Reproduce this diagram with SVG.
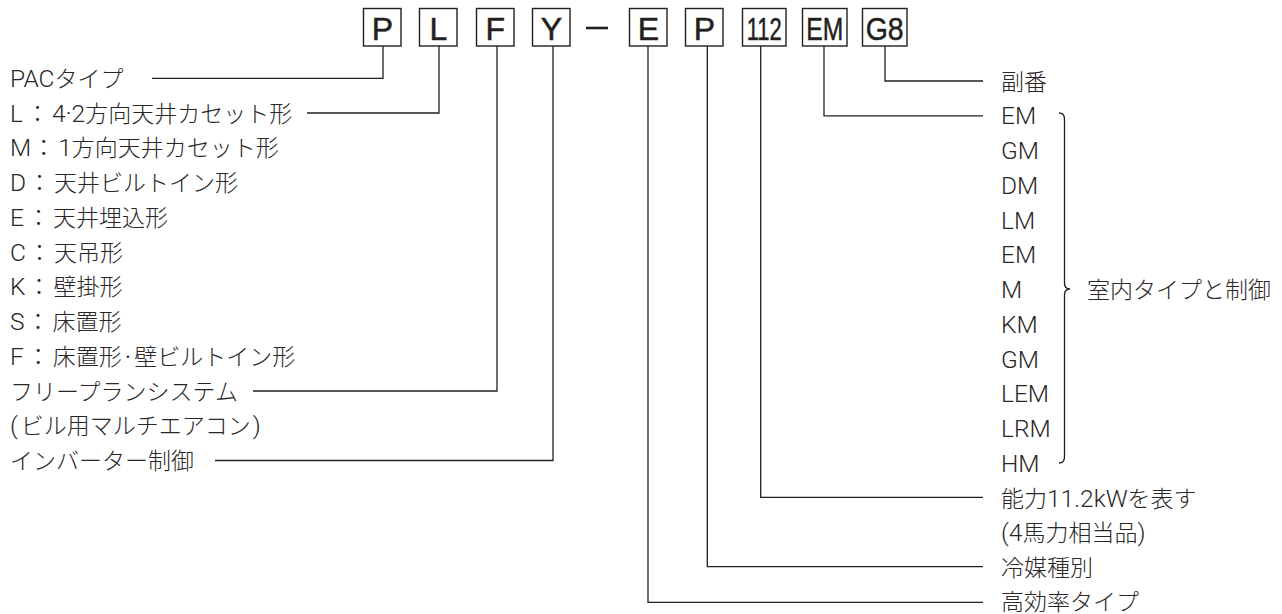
<svg xmlns="http://www.w3.org/2000/svg" width="1282" height="614" viewBox="0 0 1282 614">
<style>
.bx{fill:#fff;stroke:#231f20;stroke-width:1.4}
.bt{font-family:"Liberation Sans","Noto Sans CJK JP",sans-serif;font-size:32px;fill:#231f20;stroke:#231f20;stroke-width:0.5;text-anchor:middle}
.t{font-family:"Noto Sans CJK JP","Liberation Sans",sans-serif;font-size:23px;font-weight:300;fill:#2a2627}
.la{font-family:Roboto,"Liberation Sans",sans-serif;font-size:24.5px;font-weight:300;fill:#2a2627}
.ln{fill:none;stroke:#231f20;stroke-width:1.3}
</style>
<rect width="1282" height="614" fill="#fff"/>
<g id="code">
<g id="box-P"><rect class="bx" x="363.5" y="8.5" width="37.5" height="37.5"/><text class="bt" x="382.3" y="39.5">P</text></g>
<g id="box-L"><rect class="bx" x="419.5" y="8.5" width="37.5" height="37.5"/><text class="bt" x="438.3" y="39.5">L</text></g>
<g id="box-F"><rect class="bx" x="476.5" y="8.5" width="37.5" height="37.5"/><text class="bt" x="495.3" y="39.5">F</text></g>
<g id="box-Y"><rect class="bx" x="532.5" y="8.5" width="37.5" height="37.5"/><text class="bt" x="551.3" y="39.5">Y</text></g>
<g id="dash"><line x1="586" y1="28" x2="608" y2="28" stroke="#231f20" stroke-width="2.6"/></g>
<g id="box-E"><rect class="bx" x="629.5" y="8.5" width="37.5" height="37.5"/><text class="bt" x="648.3" y="39.5">E</text></g>
<g id="box-P2"><rect class="bx" x="685.5" y="8.5" width="37.5" height="37.5"/><text class="bt" x="704.3" y="39.5">P</text></g>
<g id="box-112"><rect class="bx" x="742.5" y="8.5" width="43.5" height="37.5"/><text class="bt" x="764.2" y="39.5" textLength="35" lengthAdjust="spacingAndGlyphs">112</text></g>
<g id="box-EM"><rect class="bx" x="802.5" y="8.5" width="44.5" height="37.5"/><text class="bt" x="824.7" y="39.5" textLength="37" lengthAdjust="spacingAndGlyphs">EM</text></g>
<g id="box-G8"><rect class="bx" x="862.5" y="8.5" width="44.5" height="37.5"/><text class="bt" x="884.7" y="39.5" textLength="38" lengthAdjust="spacingAndGlyphs">G8</text></g>
</g>
<g id="connectors">
<polyline class="ln" points="383,46 383,78.3 152,78.3"/>
<polyline class="ln" points="439,46 439,113 307,113"/>
<polyline class="ln" points="497,46 497,391 253,391"/>
<polyline class="ln" points="553,46 553,460.5 215,460.5"/>
<polyline class="ln" points="648,46 648,602.3 983,602.3"/>
<polyline class="ln" points="707.3,46 707.3,566.7 983,566.7"/>
<polyline class="ln" points="760.7,46 760.7,497.3 983,497.3"/>
<polyline class="ln" points="824,46 824,115.8 983,115.8"/>
<polyline class="ln" points="885,46 885,81 983,81"/>
<path class="ln" d="M1059,113 Q1064.5,113 1064.5,119 V283 Q1064.5,289 1070,289 Q1064.5,289 1064.5,295 V457 Q1064.5,463 1059,463"/>
</g>
<g id="left-labels">
<text class="t" x="10" y="86.8"><tspan class="la">PAC</tspan>タイプ</text>
<text class="t" x="10" y="121.5"><tspan class="la">L</tspan><tspan dx="3">：</tspan><tspan class="la" dx="3">4·2</tspan>方向天井カセット形</text>
<text class="t" x="10" y="156.3"><tspan class="la">M</tspan><tspan dx="1">：</tspan><tspan class="la" dx="3">1</tspan>方向天井カセット形</text>
<text class="t" x="10" y="191"><tspan class="la">D</tspan><tspan dx="2">：</tspan><tspan dx="3">天井ビルトイン形</tspan></text>
<text class="t" x="10" y="225.8"><tspan class="la">E</tspan><tspan dx="3">：</tspan><tspan dx="3">天井埋込形</tspan></text>
<text class="t" x="10" y="260.5"><tspan class="la">C</tspan><tspan dx="2">：</tspan><tspan dx="3">天吊形</tspan></text>
<text class="t" x="10" y="295.3"><tspan class="la">K</tspan><tspan dx="2">：</tspan><tspan dx="3">壁掛形</tspan></text>
<text class="t" x="10" y="330"><tspan class="la">S</tspan><tspan dx="2">：</tspan><tspan dx="3">床置形</tspan></text>
<text class="t" x="10" y="364.8"><tspan class="la">F</tspan><tspan dx="3">：</tspan><tspan dx="3">床置形·壁ビルトイン形</tspan></text>
<text class="t" x="10" y="399.5">フリープランシステム</text>
<text class="t" x="10" y="434.3"><tspan class="la">(</tspan><tspan dx="3">ビル用マルチエアコン</tspan><tspan class="la" dx="2">)</tspan></text>
<text class="t" x="10" y="469">インバーター制御</text>
</g>
<g id="right-labels">
<text class="t" x="1001" y="89.5">副番</text>
<text class="t la" x="1001" y="124.3">EM</text>
<text class="t la" x="1001" y="159">GM</text>
<text class="t la" x="1001" y="193.8">DM</text>
<text class="t la" x="1001" y="228.5">LM</text>
<text class="t la" x="1001" y="263.3">EM</text>
<text class="t la" x="1001" y="298">M</text>
<text class="t la" x="1001" y="332.8">KM</text>
<text class="t la" x="1001" y="367.5">GM</text>
<text class="t la" x="1001" y="402.3">LEM</text>
<text class="t la" x="1001" y="437">LRM</text>
<text class="t la" x="1001" y="471.8">HM</text>
<text class="t" x="1001" y="506.5">能力<tspan class="la">11.2kW</tspan>を表す</text>
<text class="t" x="1001" y="541.3"><tspan class="la">(4</tspan>馬力相当品<tspan class="la">)</tspan></text>
<text class="t" x="1001" y="576">冷媒種別</text>
<text class="t" x="1001" y="609.5">高効率タイプ</text>
<text class="t" x="1087" y="297.5">室内タイプと制御</text>
</g>
</svg>
